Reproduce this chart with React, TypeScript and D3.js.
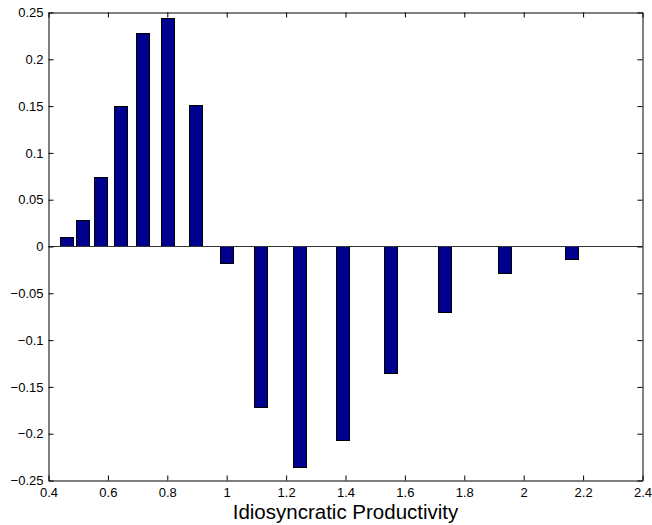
import React, { useEffect, useRef } from 'react'
import * as d3 from 'd3';

// grid points of idiosyncratic productivity (bar centres)
const productivity = [0.463, 0.517, 0.577, 0.644, 0.719, 0.803, 0.896, 1.0,
    1.117, 1.247, 1.392, 1.554, 1.735, 1.937, 2.163];

// bar heights
const values = [0.0099, 0.0277, 0.0733, 0.150, 0.2276, 0.2432, 0.1511, -0.0185,
    -0.1724, -0.2357, -0.2069, -0.1358, -0.0704, -0.0291, -0.0135];

const xTicks = [0.4, 0.6, 0.8, 1, 1.2, 1.4, 1.6, 1.8, 2, 2.2, 2.4];
const yTicks = [-0.25, -0.2, -0.15, -0.1, -0.05, 0, 0.05, 0.1, 0.15, 0.2, 0.25];

const xLabel = 'Idiosyncratic Productivity';

export default function App() {

    const svgRef = useRef<SVGSVGElement>(null);

    const width = 652;
    const height = 525;

    const margin = {
        top: 12,
        right: 10,
        bottom: 45,
        left: 48
    };

    const innerWidth = width - margin.left - margin.right;
    const innerHeight = height - margin.top - margin.bottom;

    const font = '"Liberation Sans", Arial, Helvetica, sans-serif';

    useEffect(() => {
        const svg = d3.select(svgRef.current)
            .attr('width', width)
            .attr('height', height);

        svg.selectAll('*').remove();

        const g = svg.append('g')
            .attr('transform', `translate(${margin.left + 0.5}, ${margin.top + 0.5})`);

        const x = d3.scaleLinear()
            .domain([0.4, 2.4])
            .range([0, innerWidth]);

        const y = d3.scaleLinear()
            .domain([-0.25, 0.25])
            .range([innerHeight, 0]);

        const barWidth = 0.0437; // in data units

        // bars
        g.append('g')
            .selectAll('rect')
            .data(productivity.map((p, i) => ({ p, v: values[i] })))
            .enter()
            .append('rect')
            .attr('x', d => Math.round(x(d.p - barWidth / 2)))
            .attr('width', d => Math.round(x(d.p + barWidth / 2)) - Math.round(x(d.p - barWidth / 2)))
            .attr('y', d => Math.round(y(Math.max(0, d.v))))
            .attr('height', d => Math.round(Math.abs(y(d.v) - y(0))))
            .attr('fill', '#00008f')
            .attr('stroke', '#000')
            .attr('stroke-width', 1);

        // baseline at zero
        g.append('line')
            .attr('x1', 0)
            .attr('x2', innerWidth)
            .attr('y1', Math.round(y(0)))
            .attr('y2', Math.round(y(0)))
            .attr('stroke', '#333')
            .attr('stroke-width', 1);

        const fmt = d3.format('~g');

        const bottom = g.append('g')
            .attr('transform', `translate(0, ${innerHeight})`)
            .call(d3.axisBottom(x).tickValues(xTicks).tickFormat(d => fmt(d as number))
                .tickSizeInner(-5).tickSizeOuter(0).tickPadding(7));

        const left = g.append('g')
            .call(d3.axisLeft(y).tickValues(yTicks).tickFormat(d => fmt(d as number))
                .tickSizeInner(-5).tickSizeOuter(0).tickPadding(5));

        const top = g.append('g')
            .call(d3.axisTop(x).tickValues(xTicks).tickFormat(() => '')
                .tickSizeInner(-5).tickSizeOuter(0));

        const right = g.append('g')
            .attr('transform', `translate(${innerWidth}, 0)`)
            .call(d3.axisRight(y).tickValues(yTicks).tickFormat(() => '')
                .tickSizeInner(-5).tickSizeOuter(0));

        [bottom, left, top, right].forEach(a => {
            a.attr('font-family', font).attr('font-size', 13);
            a.selectAll('.domain').attr('stroke', '#000').attr('stroke-width', 1);
            a.selectAll('line').attr('stroke', '#000');
            a.selectAll('text').attr('fill', '#000');
        });

        g.append('text')
            .attr('x', innerWidth / 2)
            .attr('y', innerHeight + 38)
            .attr('text-anchor', 'middle')
            .attr('font-family', font)
            .attr('font-size', 20.5)
            .attr('fill', '#000')
            .text(xLabel);

    }, [])

    return (
        <>
            <svg ref={svgRef} style={{ position: 'absolute', left: 0, top: 0, background: '#fff' }}></svg>
        </>
    )
}
